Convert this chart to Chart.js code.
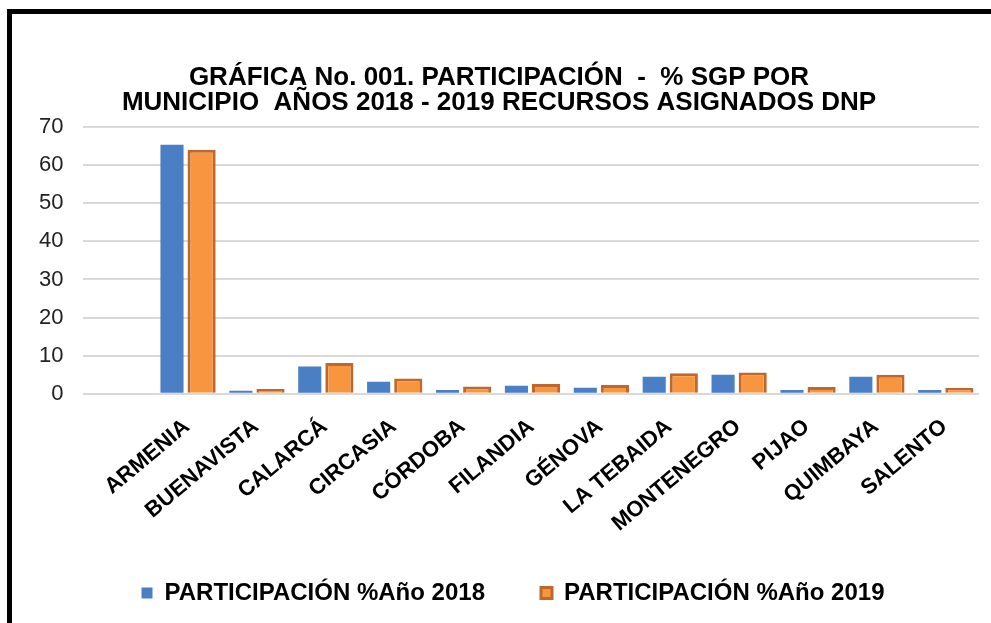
<!DOCTYPE html>
<html>
<head>
<meta charset="utf-8">
<script src="https://cdn.jsdelivr.net/npm/chart.js@4.4.0/dist/chart.umd.min.js"></script>
<style>
  html, body { margin: 0; padding: 0; background: #fff; }
  #frame {
    position: absolute; left: 7px; top: 9px; width: 984px; height: 614px;
    border-top: 5px solid #000; border-left: 5px solid #000; box-sizing: border-box;
  }
  #wrap { position: absolute; left: 0; top: 0; width: 991px; height: 623px; }
</style>
</head>
<body>
<div id="frame"></div>
<div id="wrap"><canvas id="grafica"></canvas></div>
<script>
// municipios (el primero vacio, como en la grafica original)
const municipios = ['', 'ARMENIA', 'BUENAVISTA', 'CALARCÁ', 'CIRCASIA', 'CÓRDOBA', 'FILANDIA',
  'GÉNOVA', 'LA TEBAIDA', 'MONTENEGRO', 'PIJAO', 'QUIMBAYA', 'SALENTO'];
const part2018 = [null, 65.3, 0.8, 7.2, 3.2, 1.0, 2.1, 1.6, 4.5, 5.0, 1.0, 4.5, 1.0];
const part2019 = [null, 64.0, 1.3, 8.1, 4.0, 1.9, 2.6, 2.3, 5.4, 5.6, 1.8, 5.0, 1.6];
const ejeY = [0, 10, 20, 30, 40, 50, 60, 70];

const ctx = document.getElementById('grafica').getContext('2d');

// correr la leyenda: un poco a la derecha y hacia arriba
const moverLeyenda = {
    id: 'moverLeyenda',
    afterLayout(chart) {
        const l = chart.legend;
        l.left += 14;
        l.right += 14;
        l.top -= 24;
        l.bottom -= 24;
    }
};

new Chart(ctx, {
    type: 'bar',
    data: {
        labels: municipios,
        datasets: [{
            label: 'PARTICIPACIÓN %Año 2018',
            data: part2018,
            backgroundColor: '#4a7ec5',
            borderColor: '#4a7ec5',
            borderWidth: 0,
            barPercentage: 0.78
        }, {
            label: 'PARTICIPACIÓN %Año 2019',
            data: part2019,
            backgroundColor: '#f7963f',
            borderColor: '#c0682c',
            borderWidth: 3,
            barPercentage: 0.95
        }]
    },
    options: {
        responsive: true,
        maintainAspectRatio: false,
        animation: false,
        categoryPercentage: 0.86,
        layout: { padding: { left: 19, right: 12, top: 65, bottom: -16 } },
        plugins: {
            title: {
                display: true,
                text: ['GRÁFICA No. 001. PARTICIPACIÓN  -  % SGP POR',
                       'MUNICIPIO  AÑOS 2018 - 2019 RECURSOS ASIGNADOS DNP'],
                color: '#000',
                font: { family: 'Liberation Sans', size: 26, weight: 'bold', lineHeight: 0.96 },
                padding: { top: 0, bottom: 12 }
            },
            legend: {
                position: 'bottom',
                labels: {
                    color: '#000',
                    font: { family: 'Liberation Sans', size: 24, weight: 'bold' },
                    boxWidth: 11,
                    boxHeight: 11,
                    padding: 56
                }
            },
            tooltip: { enabled: false }
        },
        scales: {
            x: {
                grid: { display: false },
                border: { display: false },
                ticks: {
                    color: '#000',
                    font: { family: 'Liberation Sans', size: 22, weight: 'bold' },
                    minRotation: 40,
                    maxRotation: 40,
                    autoSkip: false,
                    padding: 12
                }
            },
            y: {
                min: 0,
                max: 70,
                afterBuildTicks: axis => { axis.ticks = ejeY.map(v => ({ value: v })); },
                grid: { color: '#d9d9d9', lineWidth: 2, drawTicks: false },
                border: { display: false },
                ticks: {
                    color: '#222',
                    font: { family: 'Liberation Sans', size: 22 },
                    padding: 20
                }
            }
        }
    },
    plugins: [moverLeyenda]
});
</script>
</body>
</html>
